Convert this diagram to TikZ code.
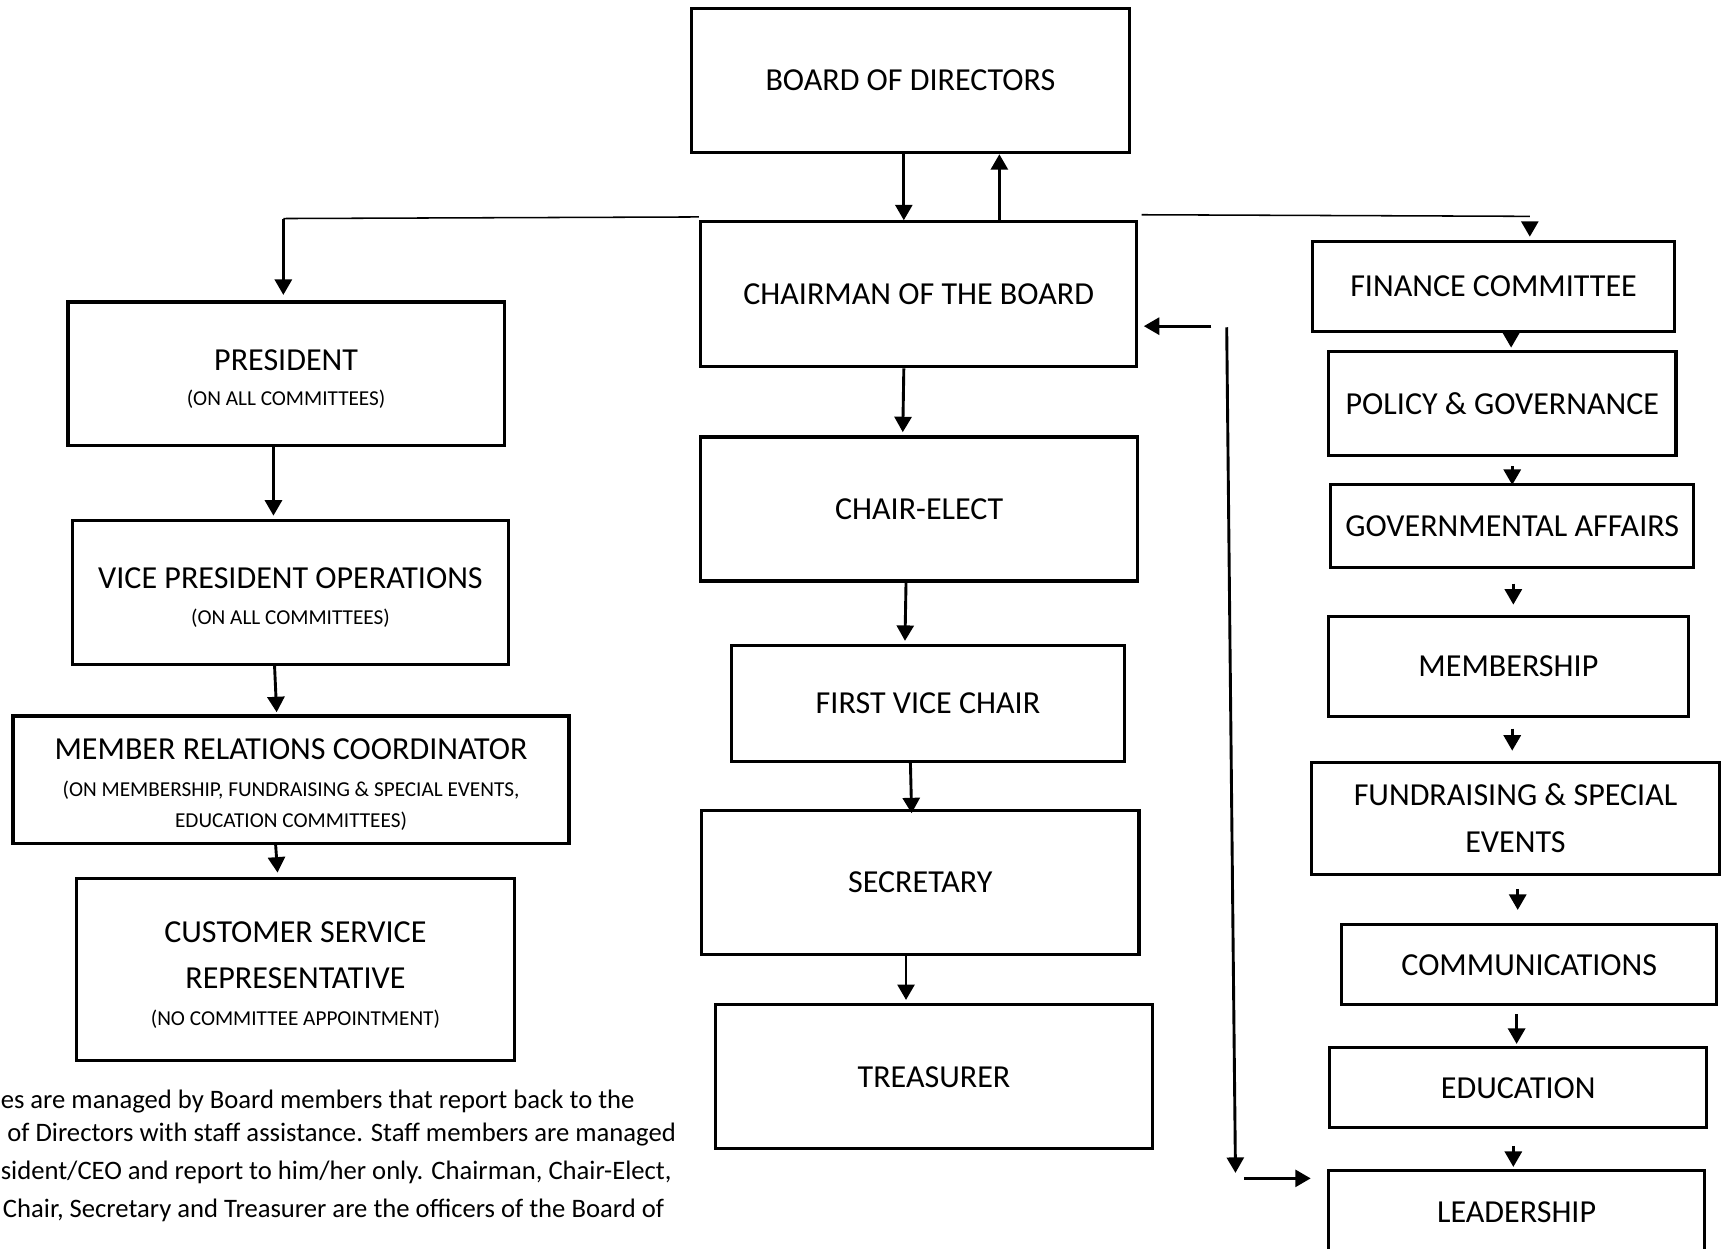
\documentclass[tikz,border=0pt]{standalone}
\usepackage{fontspec}
\setmainfont{Carlito}
\usetikzlibrary{arrows.meta}

\newcommand\boxfont{\fontsize{8.3}{12}\selectfont}
\newcommand\notefont{\fontsize{5.5}{8}\selectfont}
\newcommand\footfont{\fontsize{6.9}{9.4}\selectfont}
\newcommand\topstrut{\rule{0pt}{8pt}}

\tikzset{
  box/.style={draw, line width=0.8pt, align=center, inner sep=0pt, font=\boxfont},
  arr/.style={line width=0.75pt, -{Triangle[length=4pt,width=4.4pt]}},
  link/.style={line width=0.4pt},
}

\begin{document}
\begin{tikzpicture}[x=0.01cm, y=-0.01cm]
\useasboundingbox (0,0) rectangle (1568,1137);

% officers of the board
\node[box, minimum width=3.98cm, minimum height=1.31cm] (board) at (829,73.5) {BOARD OF DIRECTORS};
\node[box, minimum width=3.97cm, minimum height=1.32cm] (chair) at (836.5,268) {CHAIRMAN OF THE BOARD};
\node[box, minimum width=3.98cm, minimum height=1.31cm] (elect) at (837,463.5) {CHAIR-ELECT};
\node[box, minimum width=3.58cm, minimum height=1.05cm] (fvc) at (845,640.5) {FIRST VICE CHAIR};
\node[box, minimum width=3.98cm, minimum height=1.31cm] (sec) at (838,803.5) {SECRETARY};
\node[box, minimum width=3.97cm, minimum height=1.31cm] (treas) at (850.5,980.5) {TREASURER};

% staff
\node[box, minimum width=3.97cm, minimum height=1.31cm] (pres) at (260.5,340.5)
  {\topstrut PRESIDENT\\[-3pt]{\notefont (ON ALL COMMITTEES)}};
\node[box, minimum width=3.97cm, minimum height=1.31cm] (vp) at (264.5,539.5)
  {\topstrut VICE PRESIDENT OPERATIONS\\[-2.7pt]{\notefont (ON ALL COMMITTEES)}};
\node[box, minimum width=5.06cm, minimum height=1.16cm] (mrc) at (265,710)
  {\topstrut MEMBER RELATIONS COORDINATOR\\[-2.5pt]{\notefont (ON MEMBERSHIP, FUNDRAISING \& SPECIAL EVENTS,}\\[-4pt]{\notefont EDUCATION COMMITTEES)}};
\node[box, minimum width=3.98cm, minimum height=1.66cm] (csr) at (269,883)
  {\topstrut CUSTOMER SERVICE\\REPRESENTATIVE\\[-2.5pt]{\notefont (NO COMMITTEE APPOINTMENT)}};

% committees
\node[box, minimum width=3.30cm, minimum height=0.82cm] (fin) at (1360,261) {FINANCE COMMITTEE};
\node[box, minimum width=3.16cm, minimum height=0.95cm] (pol) at (1368,367.5) {POLICY \& GOVERNANCE};
\node[box, minimum width=3.30cm, minimum height=0.76cm] (gov) at (1377,479) {GOVERNMENTAL AFFAIRS};
\node[box, minimum width=3.27cm, minimum height=0.91cm] (memb) at (1373.5,606.5) {MEMBERSHIP};
\node[box, minimum width=3.72cm, minimum height=1.02cm] (fund) at (1380,745) {FUNDRAISING \& SPECIAL\\EVENTS};
\node[box, minimum width=3.41cm, minimum height=0.73cm] (comm) at (1392.5,878.5) {COMMUNICATIONS};
\node[box, minimum width=3.43cm, minimum height=0.73cm] (edu) at (1382.5,990.5) {EDUCATION};
\node[box, minimum width=3.42cm, minimum height=0.76cm] (lead) at (1381,1104) {LEADERSHIP};

% note
\node[anchor=base west, inner sep=0pt, font=\footfont] (note1) at (0,1009) {es are managed by Board members that report back to the};
\node[anchor=base west, inner sep=0pt, font=\footfont] (note2) at (6,1039) {of Directors with staff assistance. Staff members are managed};
\node[anchor=base west, inner sep=0pt, font=\footfont] (note3) at (0,1074) {sident/CEO and report to him/her only. Chairman, Chair-Elect,};
\node[anchor=base west, inner sep=0pt, font=\footfont] (note4) at (2,1109) {Chair, Secretary and Treasurer are the officers of the Board of};

% board <-> chairman
\draw[arr] (board.south -| 823,0) -- (chair.north -| 823,0);
\draw[arr] (chair.north -| 910,0) -- (board.south -| 910,0);

% branches off the chairman
\coordinate (lcorner) at (258,199);
\draw[link] ([yshift=0.03cm]chair.north west) -- (lcorner);
\draw[arr, shorten >=0.05cm] (lcorner) -- (pres.north -| lcorner);
\coordinate (rcorner) at (1393,197);
\draw[link] ([shift={(0.03cm,0.05cm)}]chair.north east) -- (rcorner);
\draw[arr, shorten <=0.07cm, shorten >=0.03cm] (rcorner) -- (fin.north -| rcorner);

\coordinate (fbk) at (1103,297);
\draw[arr, shorten >=0.05cm] (fbk) -- (fbk -| chair.east);
\coordinate (vtop) at (1117,298);
\coordinate (vbot) at (1125,1068);
\draw[arr] (vtop) -- (vbot);
\coordinate (lnk) at (1133,1073);
\draw[arr, shorten >=0.15cm] (lnk) -- (lnk -| lead.west);

% officer chain
\draw[arr, shorten >=0.03cm] (chair.south -| 823,0) -- (elect.north -| 822,0);
\draw[arr, shorten >=0.03cm] (elect.south -| 825,0) -- (fvc.north -| 824,0);
\draw[arr, shorten >=-0.04cm] (fvc.south -| 829,0) -- (sec.north -| 830,0);
\draw[arr, shorten >=0.03cm] (sec.south -| 825,0) -- (treas.north -| 825,0);

% staff chain
\draw[arr, shorten >=0.03cm] (pres.south -| 249,0) -- (vp.north -| 249,0);
\draw[arr, shorten >=0.02cm] (vp.south -| 250,0) -- (mrc.north -| 252,0);
\draw[arr, shorten >=0.04cm] (mrc.south -| 251,0) -- (csr.north -| 253,0);

% committee chain
\foreach \a/\b/\x/\s/\e in {fin/pol/1376/-0.06cm/0.02cm, pol/gov/1377/0.08cm/-0.02cm,
    gov/memb/1378/0.13cm/0.09cm, memb/fund/1377/0.10cm/0.09cm, fund/comm/1382/0.12cm/0.12cm,
    comm/edu/1381/0.07cm/0.02cm, edu/lead/1378/0.15cm/0.02cm}
  \draw[arr, shorten <=\s, shorten >=\e] (\a.south -| \x,0) -- (\b.north -| \x,0);

\end{tikzpicture}
\end{document}
